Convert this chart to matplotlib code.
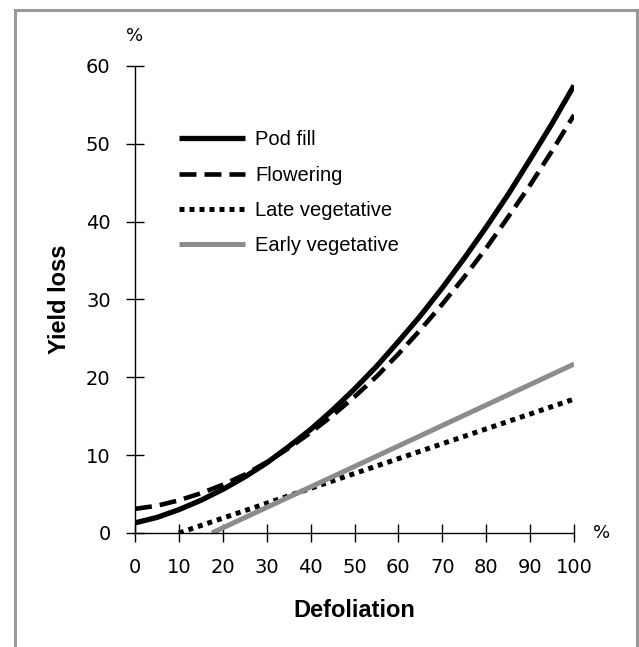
import matplotlib
matplotlib.use("Agg")
import matplotlib.pyplot as plt
from matplotlib.patches import Rectangle

# Datos
defoliacion = [0, 5, 10, 15, 20, 25, 30, 35, 40, 45, 50, 55, 60, 65, 70, 75, 80, 85, 90, 95, 100]
pod_fill = [1.3, 2.0, 3.0, 4.2, 5.6, 7.2, 9.0, 11.1, 13.3, 15.8, 18.5, 21.4, 24.6, 27.9, 31.5, 35.3, 39.3, 43.5, 48.0, 52.6, 57.5]
flowering = [3.1, 3.5, 4.2, 5.1, 6.2, 7.5, 9.1, 10.9, 12.9, 15.1, 17.5, 20.1, 23.0, 26.1, 29.4, 32.9, 36.6, 40.6, 44.7, 49.1, 53.7]
late_x = [10, 100]
late_veg = [0.0, 17.2]
early_x = [17.5, 100]
early_veg = [0.0, 21.7]

series_labels = ["Pod fill", "Flowering", "Late vegetative", "Early vegetative"]
x_ticks = [0, 10, 20, 30, 40, 50, 60, 70, 80, 90, 100]
y_ticks = [0, 10, 20, 30, 40, 50, 60]

fig = plt.figure(figsize=(6.39, 6.47), dpi=100)
ax = fig.add_axes([0.2113, 0.1762, 0.6870, 0.7218])

ax.plot(defoliacion, pod_fill, color="black", lw=3.8, solid_capstyle="butt", label=series_labels[0])
ax.plot(defoliacion, flowering, color="black", lw=3.3, linestyle=(0, (3.7, 1.75)),
        dash_capstyle="butt", label=series_labels[1])
ax.plot(late_x, late_veg, color="black", lw=3.6, linestyle=(0, (1, 1)),
        dash_capstyle="butt", label=series_labels[2])
ax.plot(early_x, early_veg, color="#8c8c8c", lw=3.6, solid_capstyle="butt", label=series_labels[3])

ax.set_xlim(0, 100)
ax.set_ylim(0, 60)
ax.set_xticks(x_ticks)
ax.set_yticks(y_ticks)
for s in ["top", "right"]:
    ax.spines[s].set_visible(False)
for s in ["left", "bottom"]:
    ax.spines[s].set_linewidth(1.0)
ax.tick_params(direction="inout", length=13, width=1.0, labelsize=14)
ax.tick_params(axis="x", pad=11.5)
ax.tick_params(axis="y", pad=11)
for lbl in ax.get_xticklabels() + ax.get_yticklabels():
    lbl.set_family("DejaVu Sans")

ax.set_xlabel("Defoliation", fontsize=17, fontweight="bold", family="Liberation Sans", labelpad=16)
ax.set_ylabel("Yield loss", fontsize=17, fontweight="bold", family="Liberation Sans", labelpad=11)

ax.text(0, 1.064, "%", transform=ax.transAxes, ha="center", va="center", fontsize=13, family="DejaVu Sans")
ax.text(1.063, 0, "%", transform=ax.transAxes, ha="center", va="center", fontsize=13, family="DejaVu Sans")

leg = ax.legend(loc="upper left", bbox_to_anchor=(0.10, 0.862), frameon=False,
                prop={"family": "Liberation Sans", "size": 14.5},
                handlelength=3.3, handletextpad=0.5, labelspacing=0.8,
                borderpad=0, borderaxespad=0)

# Marco gris alrededor de la figura
marco = Rectangle((15 / 639, -0.1), (637 - 15) / 639, 1.1 - 10 / 647,
                  transform=fig.transFigure, fill=False, edgecolor="#999999",
                  linewidth=2.2, clip_on=False)
fig.patches.append(marco)

fig.savefig("out.png", dpi=100)
